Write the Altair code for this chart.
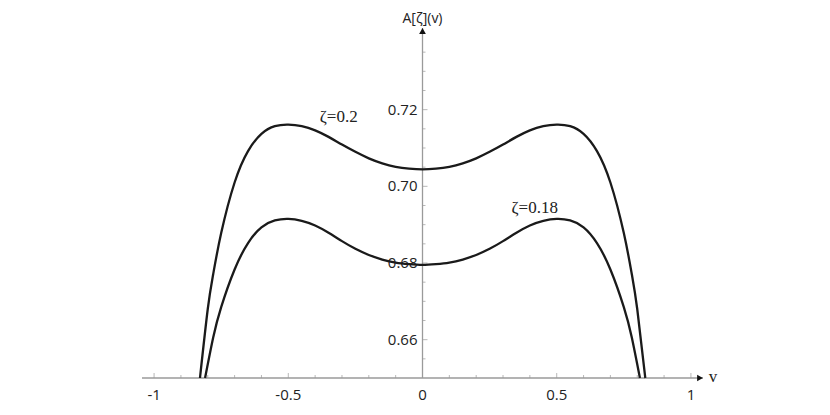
import altair as alt
import pandas as pd

# ---- data ----
v_02 = [-0.829, -0.80, -0.78, -0.75, -0.70, -0.65, -0.60, -0.55, -0.50, -0.45, -0.40, -0.35, -0.30,
        -0.25, -0.20, -0.15, -0.10, -0.05, 0.0, 0.05, 0.10, 0.15, 0.20, 0.25, 0.30, 0.35, 0.40, 0.45,
        0.50, 0.55, 0.60, 0.65, 0.70, 0.75, 0.78, 0.80, 0.830]
a_02 = [0.6500, 0.6680, 0.6770, 0.6878, 0.7010, 0.7092, 0.7137, 0.7157, 0.7161, 0.7157, 0.7146, 0.7129,
        0.7109, 0.7090, 0.7073, 0.7060, 0.7051, 0.7046, 0.7044, 0.7046, 0.7051, 0.7060, 0.7073, 0.7090,
        0.7109, 0.7129, 0.7146, 0.7157, 0.7161, 0.7157, 0.7137, 0.7092, 0.7010, 0.6878, 0.6770, 0.6680,
        0.6500]

v_018 = [-0.810, -0.78, -0.75, -0.70, -0.65, -0.60, -0.55, -0.50, -0.45, -0.40, -0.35, -0.30, -0.25,
         -0.20, -0.15, -0.10, -0.05, 0.0, 0.05, 0.10, 0.15, 0.20, 0.25, 0.30, 0.35, 0.40, 0.45, 0.50,
         0.55, 0.60, 0.65, 0.70, 0.75, 0.78, 0.810]
a_018 = [0.6500, 0.6605, 0.6685, 0.6783, 0.6852, 0.6893, 0.6911, 0.6915, 0.6910, 0.6898, 0.6879, 0.6857,
         0.6837, 0.6821, 0.6809, 0.6801, 0.6797, 0.6795, 0.6797, 0.6801, 0.6809, 0.6821, 0.6837, 0.6857,
         0.6879, 0.6898, 0.6910, 0.6915, 0.6911, 0.6893, 0.6852, 0.6783, 0.6685, 0.6605, 0.6500]

x_major = [-1.0, -0.5, 0.0, 0.5, 1.0]
x_major_labels = ["-1", "-0.5", "0", "0.5", "1"]
x_minor = [-0.9, -0.8, -0.7, -0.6, -0.4, -0.3, -0.2, -0.1, 0.1, 0.2, 0.3, 0.4, 0.6, 0.7, 0.8, 0.9]
y_major = [0.66, 0.68, 0.70, 0.72]
y_major_labels = ["0.66", "0.68", "0.70", "0.72"]
y_minor = [0.655, 0.665, 0.67, 0.675, 0.685, 0.69, 0.695, 0.705, 0.71, 0.715, 0.725, 0.73, 0.735]

curve_labels = ["ζ=0.2", "ζ=0.18"]
curve_label_v = [-0.312, 0.418]
curve_label_a = [0.7182, 0.6944]

X_DOM = [-1.045, 1.045]
Y_DOM = [0.65, 0.7413]

xs = alt.Scale(domain=X_DOM, nice=False, zero=False)
ys = alt.Scale(domain=Y_DOM, nice=False, zero=False)
X = lambda f: alt.X(f, type="quantitative", scale=xs, axis=None)
Y = lambda f: alt.Y(f, type="quantitative", scale=ys, axis=None)

curves = pd.DataFrame(
    {"v": v_02 + v_018, "A": a_02 + a_018,
     "s": ["0.2"] * len(v_02) + ["0.18"] * len(v_018)}
)

AXC = "#9a9a9a"
SANS = "Open Sans"
SERIF = "Liberation Serif"

lines = alt.Chart(curves).mark_line(color="#1a1a1a", strokeWidth=2.3, interpolate="natural").encode(
    x=X("v"), y=Y("A"), detail="s:N"
)

xaxis = alt.Chart(pd.DataFrame({"x1": [X_DOM[0]], "x2": [X_DOM[1]], "y": [Y_DOM[0]]})).mark_rule(
    color=AXC, strokeWidth=1.3
).encode(x=X("x1"), x2="x2:Q", y=Y("y"))

yaxis = alt.Chart(pd.DataFrame({"x": [0.0], "y1": [Y_DOM[0]], "y2": [Y_DOM[1]]})).mark_rule(
    color=AXC, strokeWidth=1.3
).encode(x=X("x"), y=Y("y1"), y2="y2:Q")

arrow_up = alt.Chart(pd.DataFrame({"x": [0.0], "y": [Y_DOM[1]]})).mark_point(
    shape="triangle-up", filled=True, color="#111", size=45, opacity=1, yOffset=3
).encode(x=X("x"), y=Y("y"))

arrow_right = alt.Chart(pd.DataFrame({"x": [X_DOM[1]], "y": [Y_DOM[0]]})).mark_point(
    shape="triangle-right", filled=True, color="#111", size=45, opacity=1, xOffset=-3
).encode(x=X("x"), y=Y("y"))

xmaj = alt.Chart(pd.DataFrame({"x": x_major, "y": [Y_DOM[0]] * len(x_major), "t": x_major_labels}))
xmaj_ticks = xmaj.mark_tick(orient="vertical", size=5, thickness=1, color=AXC, yOffset=-2.5).encode(
    x=X("x"), y=Y("y"))
xmaj_text = xmaj.mark_text(font=SANS, fontSize=15, color="#222", dy=17, baseline="middle").encode(
    x=X("x"), y=Y("y"), text="t:N")

xmin_ticks = alt.Chart(pd.DataFrame({"x": x_minor, "y": [Y_DOM[0]] * len(x_minor)})).mark_tick(
    orient="vertical", size=3, thickness=1, color=AXC, yOffset=-1.5).encode(x=X("x"), y=Y("y"))

ymaj = alt.Chart(pd.DataFrame({"x": [0.0] * len(y_major), "y": y_major, "t": y_major_labels}))
ymaj_ticks = ymaj.mark_tick(orient="horizontal", size=5, thickness=1, color=AXC, xOffset=2.5).encode(
    x=X("x"), y=Y("y"))
ymaj_text = ymaj.mark_text(font=SANS, fontSize=15, color="#222", dx=-5, align="right",
                           baseline="middle").encode(x=X("x"), y=Y("y"), text="t:N")

ymin_ticks = alt.Chart(pd.DataFrame({"x": [0.0] * len(y_minor), "y": y_minor})).mark_tick(
    orient="horizontal", size=3, thickness=1, color=AXC, xOffset=1.5).encode(x=X("x"), y=Y("y"))

ylabel = alt.Chart(pd.DataFrame({"x": [0.0], "y": [Y_DOM[1]], "t": ["A[ζ](v)"]})).mark_text(
    font=SANS, fontSize=14, color="#222", dy=-9, baseline="middle").encode(x=X("x"), y=Y("y"), text="t:N")

xlabel = alt.Chart(pd.DataFrame({"x": [X_DOM[1]], "y": [Y_DOM[0]], "t": ["v"]})).mark_text(
    font=SERIF, fontSize=17, color="#222", dx=10, dy=-1, baseline="middle").encode(
    x=X("x"), y=Y("y"), text="t:N")

clabels = alt.Chart(pd.DataFrame({"x": curve_label_v, "y": curve_label_a, "t": curve_labels})).mark_text(
    font=SERIF, fontSize=17, color="#222", baseline="middle").encode(x=X("x"), y=Y("y"), text="t:N")

chart = alt.layer(
    xaxis, yaxis, xmin_ticks, xmaj_ticks, ymin_ticks, ymaj_ticks, xmaj_text, ymaj_text,
    lines, arrow_up, arrow_right, ylabel, xlabel, clabels
).properties(
    width=561, height=350,
    autosize=alt.AutoSizeParams(type="none"),
    padding={"left": 134, "top": 20, "right": 110, "bottom": 25},
    background="white",
).configure_view(stroke=None)

chart.save("out.html", embed_options={"renderer": "svg", "actions": False})
